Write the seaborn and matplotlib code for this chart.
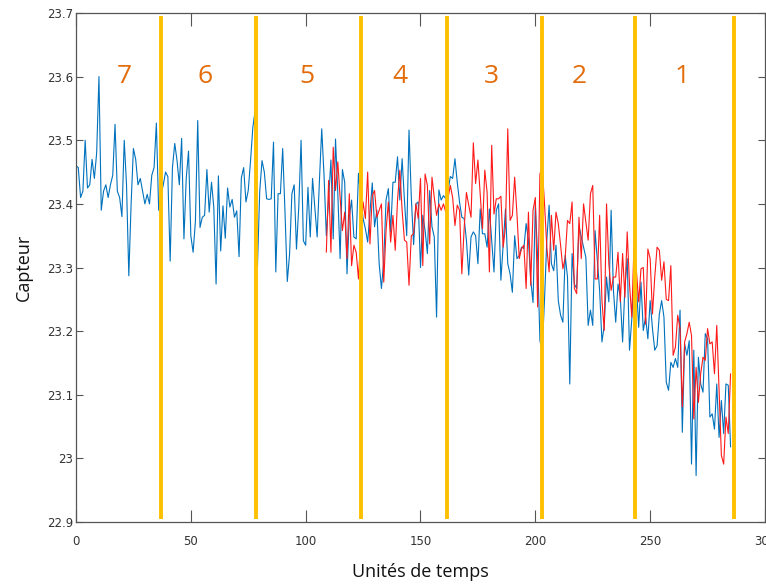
import numpy as np
import pandas as pd
import seaborn as sns
from matplotlib import pyplot as plt

# capteur bleu : une mesure par unité de temps, t = 0 .. 285
blue_vals = [
    23.46, 23.457, 23.41, 23.42, 23.50, 23.425, 23.43, 23.47, 23.44, 23.48,
    23.60, 23.39, 23.42, 23.43, 23.41, 23.43, 23.445, 23.525, 23.42, 23.41,
    23.38, 23.50, 23.43, 23.287, 23.40, 23.487, 23.47, 23.43, 23.44, 23.42,
    23.40, 23.415, 23.40, 23.445, 23.457, 23.527, 23.39, 23.415, 23.43, 23.45,
    23.443, 23.31, 23.457, 23.495, 23.468, 23.43, 23.503, 23.345, 23.44, 23.483,
    23.35, 23.324, 23.373, 23.531, 23.363, 23.379, 23.382, 23.454, 23.387, 23.434,
    23.395, 23.274, 23.444, 23.326, 23.397, 23.346, 23.425, 23.395, 23.407, 23.379,
    23.389, 23.317, 23.441, 23.457, 23.403, 23.421, 23.468, 23.52, 23.547, 23.30,
    23.42, 23.468, 23.45, 23.408, 23.407, 23.408, 23.497, 23.293, 23.416, 23.416,
    23.487, 23.387, 23.278, 23.321, 23.416, 23.43, 23.329, 23.395, 23.50, 23.342,
    23.335, 23.426, 23.348, 23.44, 23.395, 23.348, 23.437, 23.518, 23.445, 23.35,
    23.408, 23.469, 23.345, 23.502, 23.416, 23.314, 23.454, 23.434, 23.29, 23.379,
    23.406, 23.348, 23.345, 23.448, 23.41, 23.377, 23.361, 23.34, 23.387, 23.433,
    23.364, 23.39, 23.306, 23.267, 23.311, 23.406, 23.424, 23.356, 23.434, 23.434,
    23.474, 23.406, 23.471, 23.406, 23.35, 23.516, 23.41, 23.336, 23.40, 23.403,
    23.30, 23.382, 23.358, 23.322, 23.421, 23.364, 23.348, 23.222, 23.422, 23.406,
    23.413, 23.408, 23.421, 23.443, 23.44, 23.471, 23.434, 23.403, 23.379, 23.377,
    23.343, 23.288, 23.348, 23.356, 23.35, 23.306, 23.392, 23.353, 23.353, 23.332,
    23.392, 23.343, 23.293, 23.39, 23.40, 23.28, 23.337, 23.392, 23.306, 23.29,
    23.261, 23.35, 23.314, 23.319, 23.332, 23.33, 23.369, 23.343, 23.28, 23.245,
    23.40, 23.316, 23.185, 23.17, 23.25, 23.343, 23.398, 23.306, 23.295, 23.335,
    23.248, 23.225, 23.214, 23.319, 23.285, 23.117, 23.322, 23.274, 23.267, 23.366,
    23.348, 23.332, 23.316, 23.209, 23.233, 23.209, 23.358, 23.311, 23.264, 23.183,
    23.209, 23.285, 23.246, 23.39, 23.264, 23.214, 23.274, 23.253, 23.183, 23.269,
    23.314, 23.17, 23.219, 23.285, 23.274, 23.206, 23.277, 23.201, 23.222, 23.188,
    23.248, 23.204, 23.17, 23.177, 23.227, 23.248, 23.222, 23.12, 23.107, 23.151,
    23.143, 23.157, 23.143, 23.233, 23.041, 23.18, 23.162, 23.185, 22.991, 23.17,
    22.973, 23.159, 23.117, 23.104, 23.196, 23.188, 23.065, 23.07, 23.046, 23.117,
    23.033, 23.091, 23.039, 23.117, 23.115, 23.018,
]

# capteur rouge : démarre à t = 109
red_start = 109
red_vals = [
    23.324, 23.437, 23.324, 23.489, 23.421, 23.466, 23.41, 23.358, 23.387, 23.314,
    23.416, 23.303, 23.335, 23.324, 23.282, 23.35, 23.403, 23.377, 23.45, 23.337,
    23.413, 23.421, 23.379, 23.39, 23.40, 23.277, 23.358, 23.403, 23.34, 23.382,
    23.327, 23.406, 23.453, 23.39, 23.343, 23.34, 23.272, 23.35, 23.353, 23.40,
    23.377, 23.44, 23.303, 23.447, 23.429, 23.337, 23.442, 23.41, 23.382, 23.40,
    23.39, 23.40, 23.387, 23.41, 23.429, 23.41, 23.366, 23.398, 23.39, 23.29,
    23.361, 23.418, 23.398, 23.379, 23.496, 23.432, 23.469, 23.416, 23.361, 23.453,
    23.418, 23.293, 23.492, 23.384, 23.408, 23.408, 23.412, 23.332, 23.364, 23.518,
    23.374, 23.382, 23.442, 23.384, 23.314, 23.33, 23.335, 23.267, 23.387, 23.272,
    23.39, 23.41, 23.238, 23.447, 23.458, 23.40, 23.332, 23.293, 23.382, 23.327,
    23.387, 23.369, 23.335, 23.298, 23.316, 23.374, 23.369, 23.403, 23.267, 23.259,
    23.379, 23.314, 23.40, 23.371, 23.343, 23.416, 23.429, 23.282, 23.282, 23.382,
    23.248, 23.201, 23.40, 23.306, 23.264, 23.285, 23.285, 23.324, 23.246, 23.322,
    23.253, 23.356, 23.274, 23.222, 23.34, 23.295, 23.246, 23.298, 23.30, 23.211,
    23.329, 23.314, 23.227, 23.285, 23.332, 23.327, 23.28, 23.309, 23.25, 23.248,
    23.303, 23.162, 23.175, 23.225, 23.204, 23.081, 23.183, 23.196, 23.214, 23.193,
    23.062, 23.143, 23.088, 23.133, 23.159, 23.154, 23.204, 23.18, 23.183, 23.133,
    23.209, 23.109, 23.005, 22.991, 23.065, 23.039, 23.133,
]

# découpage en segments (traits jaunes) et numéros
seg_bounds = [37, 78.5, 124, 161.5, 203, 243.5, 286.5]
seg_labels = ['7', '6', '5', '4', '3', '2', '1']
seg_label_x = [21, 56, 100.5, 141, 181, 219, 264]
seg_label_y = 23.6

xticks = [0, 50, 100, 150, 200, 250, 300]
yticks = [22.9, 23.0, 23.1, 23.2, 23.3, 23.4, 23.5, 23.6, 23.7]
ytick_labels = ['22.9', '23', '23.1', '23.2', '23.3', '23.4', '23.5', '23.6', '23.7']

blue_df = pd.DataFrame({'t': np.arange(len(blue_vals)), 'v': blue_vals})
red_df = pd.DataFrame({'t': red_start + np.arange(len(red_vals)), 'v': red_vals})

sns.set_style('ticks')
plt.rcParams['font.family'] = ['Open Sans', 'DejaVu Sans']

fig = plt.figure(figsize=(7.66, 5.86), dpi=100)
ax = fig.add_axes([0.0992, 0.1092, 0.8995, 0.8686])

sns.lineplot(data=blue_df, x='t', y='v', color='#0072BD', lw=0.8, ax=ax)
sns.lineplot(data=red_df, x='t', y='v', color='#FF1A1A', lw=0.8, ax=ax)

for b in seg_bounds:
    ax.plot([b, b], [22.905, 23.695], color='#FFC000', lw=2.8, solid_capstyle='butt')
for lx, lab in zip(seg_label_x, seg_labels):
    ax.text(lx, seg_label_y, lab, color='#E46C0A', fontsize=19,
            ha='center', va='center', family=['Open Sans', 'DejaVu Sans'])

ax.set_xlim(0, 300)
ax.set_ylim(22.9, 23.7)
ax.set_xticks(xticks)
ax.set_xticklabels([str(t) for t in xticks])
ax.set_yticks(yticks)
ax.set_yticklabels(ytick_labels)

for side in ['left', 'right', 'top', 'bottom']:
    ax.spines[side].set_visible(True)
    ax.spines[side].set_color('#555555')
    ax.spines[side].set_linewidth(0.9)

ax.tick_params(axis='x', direction='in', length=9, width=0.8, color='#555555',
               top=True, pad=9, labelsize=8.5, labelcolor='#333333')
ax.tick_params(axis='y', direction='in', length=5, width=0.8, color='#555555',
               right=True, pad=2, labelsize=8.5, labelcolor='#333333')
for lab in ax.get_xticklabels() + ax.get_yticklabels():
    lab.set_family(['Liberation Sans Narrow', 'DejaVu Sans'])

ax.set_xlabel('Unités de temps', fontsize=13, labelpad=11, color='#111111')
ax.set_ylabel('Capteur', fontsize=13, labelpad=10, color='#111111')

fig.savefig('out.png', dpi=100)
